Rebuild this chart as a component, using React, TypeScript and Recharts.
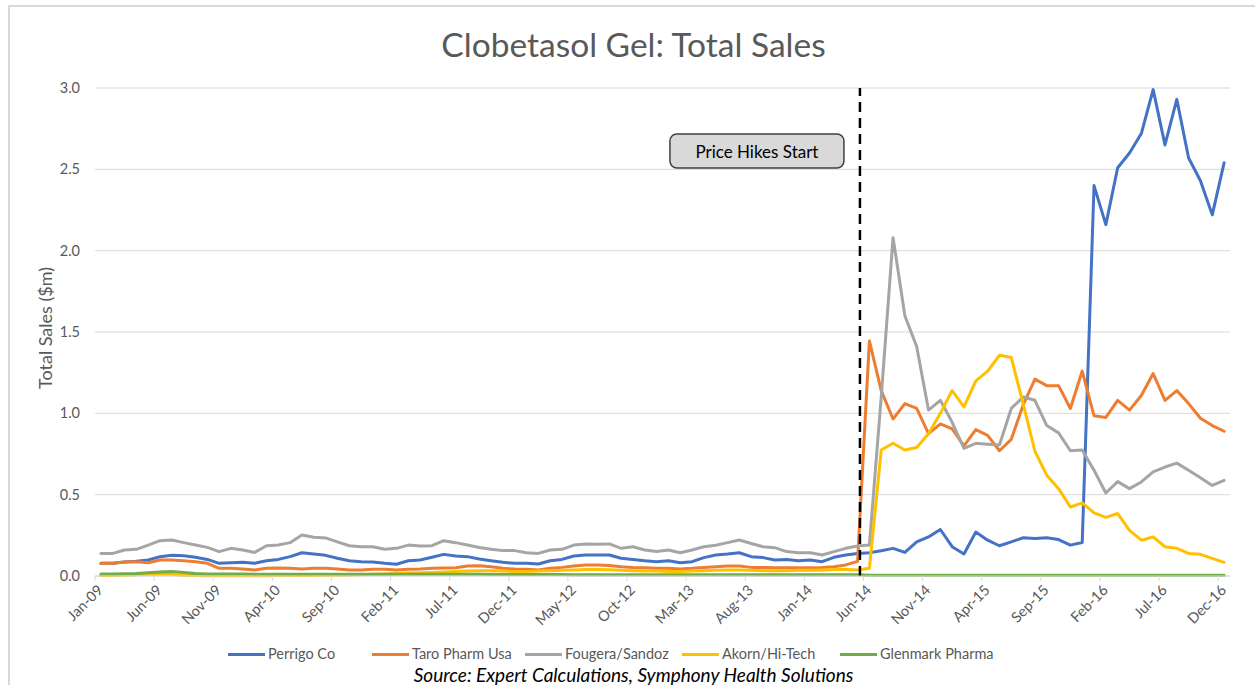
import React from 'react';
import { LineChart, Line, XAxis, YAxis, CartesianGrid, ReferenceLine } from 'recharts';

const MONTH_NAMES = ['Jan', 'Feb', 'Mar', 'Apr', 'May', 'Jun', 'Jul', 'Aug', 'Sep', 'Oct', 'Nov', 'Dec'];
const YEARS = ['09', '10', '11', '12', '13', '14', '15', '16'];
const categories = YEARS.flatMap((y) => MONTH_NAMES.map((m) => `${m}-${y}`));

const perrigo = [
  0.078, 0.078, 0.086, 0.09, 0.098, 0.119, 0.127, 0.125, 0.115, 0.102, 0.078, 0.082,
  0.084, 0.078, 0.094, 0.102, 0.119, 0.143, 0.135, 0.127, 0.109, 0.094, 0.088, 0.086,
  0.078, 0.072, 0.094, 0.098, 0.115, 0.133, 0.123, 0.119, 0.105, 0.094, 0.084, 0.078,
  0.078, 0.074, 0.094, 0.102, 0.123, 0.129, 0.129, 0.129, 0.109, 0.102, 0.094, 0.088,
  0.094, 0.082, 0.088, 0.113, 0.129, 0.135, 0.143, 0.119, 0.113, 0.098, 0.102, 0.094,
  0.098, 0.088, 0.115, 0.129, 0.138, 0.143, 0.155, 0.17, 0.145, 0.21, 0.24, 0.286,
  0.18, 0.135, 0.27, 0.22, 0.186, 0.21, 0.235, 0.23, 0.235, 0.224, 0.19, 0.206,
  2.40, 2.16, 2.51, 2.60, 2.72, 2.99, 2.65, 2.93, 2.57, 2.43, 2.22, 2.54,
];

const taro = [
  0.078, 0.078, 0.086, 0.088, 0.082, 0.098, 0.098, 0.094, 0.088, 0.078, 0.047, 0.047,
  0.043, 0.037, 0.047, 0.049, 0.047, 0.043, 0.047, 0.047, 0.043, 0.037, 0.037, 0.041,
  0.041, 0.037, 0.041, 0.043, 0.047, 0.049, 0.051, 0.061, 0.063, 0.057, 0.047, 0.043,
  0.041, 0.037, 0.047, 0.053, 0.061, 0.068, 0.068, 0.064, 0.057, 0.053, 0.051, 0.047,
  0.047, 0.043, 0.047, 0.053, 0.057, 0.061, 0.061, 0.053, 0.053, 0.051, 0.051, 0.051,
  0.051, 0.053, 0.057, 0.068, 0.09, 1.445, 1.14, 0.965, 1.06, 1.03, 0.875, 0.935,
  0.905, 0.8, 0.9, 0.865, 0.77, 0.84, 1.05, 1.21, 1.17, 1.17, 1.03, 1.26,
  0.985, 0.975, 1.08, 1.02, 1.11, 1.245, 1.08, 1.14, 1.06, 0.97, 0.925, 0.89,
];

const fougera = [
  0.139, 0.139, 0.16, 0.164, 0.19, 0.217, 0.221, 0.205, 0.19, 0.176, 0.15, 0.17,
  0.16, 0.145, 0.186, 0.19, 0.205, 0.252, 0.238, 0.234, 0.21, 0.186, 0.18, 0.18,
  0.164, 0.17, 0.19, 0.184, 0.186, 0.217, 0.205, 0.19, 0.175, 0.164, 0.156, 0.156,
  0.143, 0.139, 0.16, 0.164, 0.19, 0.197, 0.195, 0.197, 0.17, 0.18, 0.16, 0.15,
  0.16, 0.143, 0.16, 0.18, 0.189, 0.205, 0.221, 0.2, 0.18, 0.174, 0.15, 0.143,
  0.143, 0.129, 0.15, 0.17, 0.184, 0.19, 1.1, 2.08, 1.6, 1.41, 1.02, 1.08,
  0.945, 0.785, 0.816, 0.81, 0.805, 1.03, 1.1, 1.08, 0.925, 0.88, 0.77, 0.775,
  0.65, 0.51, 0.58, 0.537, 0.578, 0.64, 0.67, 0.694, 0.65, 0.604, 0.557, 0.588,
];

const akorn = [
  0.003, 0.003, 0.005, 0.008, 0.01, 0.012, 0.01, 0.005, 0.003, 0.002, 0.002, 0.002,
  0.002, 0.002, 0.002, 0.003, 0.003, 0.003, 0.003, 0.004, 0.005, 0.006, 0.008, 0.01,
  0.012, 0.015, 0.018, 0.02, 0.022, 0.025, 0.028, 0.03, 0.033, 0.033, 0.03, 0.028,
  0.028, 0.03, 0.033, 0.035, 0.037, 0.04, 0.04, 0.038, 0.035, 0.033, 0.03, 0.03,
  0.028, 0.028, 0.03, 0.033, 0.035, 0.037, 0.037, 0.035, 0.033, 0.033, 0.033, 0.035,
  0.035, 0.037, 0.04, 0.04, 0.037, 0.047, 0.775, 0.816, 0.775, 0.79, 0.875, 1.0,
  1.14, 1.04, 1.2, 1.26, 1.357, 1.343, 1.06, 0.767, 0.62, 0.537, 0.424, 0.45,
  0.388, 0.36, 0.384, 0.28, 0.22, 0.24, 0.18, 0.17, 0.139, 0.133, 0.108, 0.084,
];

const glenmark = [
  0.012, 0.012, 0.014, 0.016, 0.02, 0.025, 0.027, 0.022, 0.015, 0.012, 0.012, 0.012,
  0.012, 0.01, 0.01, 0.01, 0.01, 0.01, 0.01, 0.01, 0.01, 0.01, 0.01, 0.01,
  0.01, 0.01, 0.01, 0.01, 0.01, 0.01, 0.01, 0.01, 0.01, 0.009, 0.009, 0.009,
  0.009, 0.009, 0.009, 0.009, 0.008, 0.008, 0.008, 0.008, 0.008, 0.008, 0.008, 0.008,
  0.008, 0.008, 0.008, 0.008, 0.008, 0.008, 0.008, 0.008, 0.008, 0.008, 0.008, 0.008,
  0.008, 0.007, 0.007, 0.007, 0.007, 0.005, 0.005, 0.005, 0.005, 0.005, 0.005, 0.005,
  0.005, 0.005, 0.005, 0.005, 0.005, 0.005, 0.005, 0.005, 0.005, 0.005, 0.005, 0.005,
  0.005, 0.005, 0.005, 0.005, 0.005, 0.005, 0.005, 0.005, 0.005, 0.005, 0.005, 0.005,
];

const seriesNames = ['Perrigo Co', 'Taro Pharm Usa', 'Fougera/Sandoz', 'Akorn/Hi-Tech', 'Glenmark Pharma'];
const seriesKeys = ['perrigo', 'taro', 'fougera', 'akorn', 'glenmark'];
const seriesColors = ['#4472c4', '#ed7d31', '#a5a5a5', '#ffc000', '#70ad47'];
const legendLeft = [228, 372, 525, 682, 840];
const yTicks = [0, 0.5, 1.0, 1.5, 2.0, 2.5, 3.0];
const labelEvery = 5;
const priceHikeMonth = 64.7;

const data = categories.map((month, i) => ({
  month,
  pos: i + 0.5,
  perrigo: perrigo[i],
  taro: taro[i],
  fougera: fougera[i],
  akorn: akorn[i],
  glenmark: glenmark[i],
}));

const xTicks = categories.map((_, i) => i + 0.5).filter((_, i) => i % labelEvery === 0);

const FONT = "Lato, 'Open Sans', 'DejaVu Sans', sans-serif";
const W = 1255;
const H = 685;
const MARGIN = { top: 88, right: 25, bottom: 79, left: 0 };
const Y_AXIS_W = 95;
const PLOT_W = W - MARGIN.left - MARGIN.right - Y_AXIS_W;
const BAND = PLOT_W / categories.length;

const XTick = (props: any) => {
  const { x, y, payload } = props;
  const label = categories[Math.floor(payload.value)];
  const ax = x + 3;
  const ay = y + 15;
  return (
    <g>
      <line x1={x - BAND / 2} x2={x - BAND / 2} y1={y} y2={y + 5} stroke="#d9d9d9" strokeWidth={1} />
      <text
        x={ax}
        y={ay}
        textAnchor="end"
        transform={`rotate(-45 ${ax} ${ay})`}
        fontSize={14.5}
        fontFamily={FONT}
        fill="#595959"
      >
        {label}
      </text>
    </g>
  );
};

const YTitle = (props: any) => {
  const vb = props.viewBox || { x: 0, y: 88, width: 95, height: 488 };
  const cx = vb.x + 45;
  const cy = vb.y + vb.height / 2 - 4;
  return (
    <text
      x={cx}
      y={cy}
      textAnchor="middle"
      dominantBaseline="central"
      transform={`rotate(-90 ${cx} ${cy})`}
      fontSize={18}
      fontFamily={FONT}
      fill="#595959"
    >
      Total Sales ($m)
    </text>
  );
};

const HikeLabel = (props: any) => {
  const vb = props.viewBox || { x: 0, y: 0 };
  const bw = 174;
  const bh = 34;
  const bx = vb.x - 16 - bw;
  const by = vb.y + 46;
  return (
    <g>
      <rect x={bx} y={by} width={bw} height={bh} rx={7} ry={7} fill="#d9d9d9" stroke="#404040" strokeWidth={1.5} />
      <text
        x={bx + bw / 2}
        y={by + bh / 2}
        textAnchor="middle"
        dominantBaseline="central"
        fontSize={17}
        fontFamily={FONT}
        fill="#000"
      >
        Price Hikes Start
      </text>
    </g>
  );
};

export default function App() {
  return (
    <div
      style={{
        position: 'fixed',
        left: 0,
        top: 0,
        width: W,
        height: H,
        overflow: 'hidden',
        background: '#fff',
        fontFamily: FONT,
      }}
    >
      <div
        style={{
          position: 'absolute',
          left: 8,
          top: 5,
          width: W + 20,
          height: H + 20,
          borderLeft: '2px solid #d9d9d9',
          borderTop: '2px solid #d9d9d9',
        }}
      />
      <div
        style={{
          position: 'absolute',
          left: 6,
          width: W,
          top: 24,
          textAlign: 'center',
          fontSize: 33.5,
          color: '#595959',
          fontFamily: FONT,
          lineHeight: '40px',
        }}
      >
        Clobetasol Gel: Total Sales
      </div>
      <div style={{ position: 'absolute', left: 0, top: 0 }}>
        <LineChart width={W} height={H} data={data} margin={MARGIN}>
          <CartesianGrid vertical={false} stroke="#d9d9d9" strokeWidth={1} />
          <XAxis
            type="number"
            dataKey="pos"
            domain={[0, categories.length]}
            ticks={xTicks}
            interval={0}
            tick={<XTick />}
            tickLine={false}
            tickSize={0}
            tickMargin={0}
            axisLine={{ stroke: '#d9d9d9', strokeWidth: 1 }}
            height={30}
            allowDataOverflow
          />
          <YAxis
            type="number"
            domain={[0, 3]}
            ticks={yTicks}
            interval={0}
            width={Y_AXIS_W}
            axisLine={false}
            tickLine={false}
            tickSize={0}
            tickMargin={15}
            tickFormatter={(v: number) => v.toFixed(1)}
            tick={{ fontSize: 14.5, fill: '#595959', fontFamily: FONT }}
            label={<YTitle />}
          />
          {seriesKeys.map((k, i) => (
            <Line
              key={k}
              type="linear"
              dataKey={k}
              name={seriesNames[i]}
              stroke={seriesColors[i]}
              strokeWidth={3}
              strokeLinejoin="round"
              strokeLinecap="round"
              dot={false}
              activeDot={false}
              isAnimationActive={false}
            />
          ))}
          <ReferenceLine
            x={priceHikeMonth}
            stroke="#000"
            strokeWidth={2.5}
            strokeDasharray="10 6"
            label={<HikeLabel />}
          />
        </LineChart>
      </div>
      {seriesNames.map((n, i) => (
        <div
          key={n}
          style={{
            position: 'absolute',
            left: legendLeft[i],
            top: 646,
            height: 16,
            display: 'flex',
            alignItems: 'center',
            fontSize: 14.5,
            color: '#595959',
            fontFamily: FONT,
            lineHeight: '16px',
            whiteSpace: 'nowrap',
          }}
        >
          <span style={{ display: 'inline-block', width: 37, height: 3, background: seriesColors[i], marginRight: 3 }} />
          <span>{n}</span>
        </div>
      ))}
      <div
        style={{
          position: 'absolute',
          left: 6,
          width: W,
          top: 666,
          height: 18,
          textAlign: 'center',
          fontSize: 19,
          fontStyle: 'italic',
          color: '#000',
          fontFamily: FONT,
          lineHeight: '18px',
        }}
      >
        Source: Expert Calculations, Symphony Health Solutions
      </div>
    </div>
  );
}
